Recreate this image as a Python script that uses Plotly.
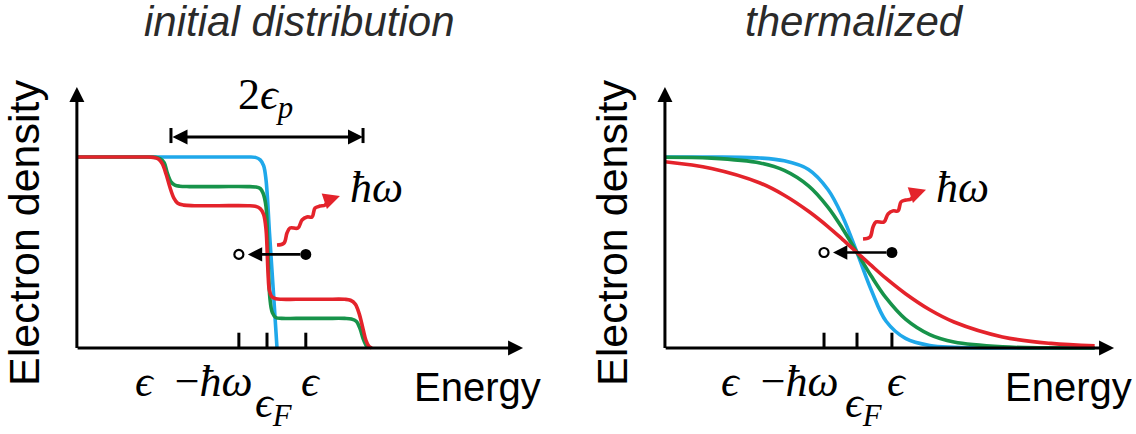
import plotly.graph_objects as go

# Energy is measured from the Fermi level in units of eps_p; density is the
# occupation fraction (1 = fully occupied).

# ---- initial (non-thermal) distribution: step profiles
init_blue_x = [-1.96, -0.5, -0.2, -0.12, -0.07, -0.035, -0.01, 0.026, 0.065, 0.093, 0.103]
init_blue_y = [1.0, 1.0, 1.0, 0.998, 0.985, 0.955, 0.88, 0.60, 0.30, 0.08, 0.0]

init_green_x = [-1.96, -1.5, -1.25, -1.15, -1.10, -1.06, -1.03, -0.99, -0.95, -0.90,
                -0.80, -0.5, -0.2, -0.12, -0.07, -0.04, -0.01, 0.01, 0.03, 0.055,
                0.09, 0.15, 0.3, 0.6, 0.80, 0.87, 0.92, 0.96, 0.99, 1.02, 1.04]
init_green_y = [1.0, 1.0, 1.0, 0.998, 0.99, 0.97, 0.92, 0.87, 0.853, 0.847,
                0.845, 0.845, 0.845, 0.843, 0.835, 0.81, 0.74, 0.50, 0.26, 0.185,
                0.16, 0.155, 0.155, 0.155, 0.155, 0.152, 0.14, 0.10, 0.05, 0.015, 0.0]

init_red_x = [-1.96, -1.5, -1.25, -1.17, -1.12, -1.08, -1.04, -1.0, -0.96, -0.92,
              -0.86, -0.75, -0.5, -0.2, -0.12, -0.07, -0.035, -0.01, 0.01, 0.025,
              0.05, 0.09, 0.15, 0.3, 0.6, 0.80, 0.86, 0.91, 0.95, 0.99, 1.02, 1.05, 1.08]
init_red_y = [1.0, 1.0, 1.0, 0.998, 0.99, 0.965, 0.91, 0.84, 0.785, 0.758,
              0.748, 0.745, 0.745, 0.745, 0.742, 0.73, 0.70, 0.62, 0.40, 0.30,
              0.268, 0.258, 0.255, 0.255, 0.255, 0.255, 0.25, 0.23, 0.18, 0.10, 0.04, 0.01, 0.0]

# ---- thermalized distribution: smooth Fermi-like profiles
therm_x = [-1.98, -1.5, -1.0, -0.75, -0.5, -0.3, -0.15, 0.0,
           0.15, 0.3, 0.5, 0.75, 1.0, 1.5, 2.0, 2.45]
therm_blue_y = [1.0, 1.0, 0.995, 0.98, 0.935, 0.83, 0.69, 0.5,
                0.30, 0.14, 0.05, 0.013, 0.004, 0.0, 0.0, 0.0]
therm_green_y = [0.999, 0.994, 0.969, 0.93, 0.849, 0.738, 0.626, 0.5,
                 0.374, 0.262, 0.151, 0.07, 0.031, 0.006, 0.001, 0.0]
therm_red_y = [0.975, 0.94, 0.864, 0.80, 0.716, 0.636, 0.569, 0.5,
               0.431, 0.364, 0.284, 0.20, 0.136, 0.058, 0.024, 0.011]

# energy marks on the axis: eps - hbar*omega, eps_F, eps
init_marks = [-0.29, 0.0, 0.40]
therm_marks = [-0.34, 0.0, 0.36]
mark_labels = ["<i>ϵ</i>\u2002−<i>ħω</i>", "<i>ϵ<sub>F</sub></i>", "<i>ϵ</i>"]
eps_p = 0.99

# electron level of the intraband transition
init_level = 0.49
therm_level = 0.50

# photon squiggle: offsets from its starting point
wave_dx = [0.0, 0.072, 0.103, 0.134, 0.216, 0.258, 0.309, 0.361, 0.392, 0.443, 0.495, 0.526]
wave_dy = [0.0, 0.010, 0.063, 0.089, 0.089, 0.131, 0.147, 0.147, 0.194, 0.204, 0.209, 0.236]
wave_tip = (0.649, 0.257)
photon_start_init = (0.103, 0.539)
photon_start_therm = (0.062, 0.571)

BLUE = "#1fa8ea"
GREEN = "#17934a"
RED = "#e4232b"
INK = "#000000"
MATH_FONT = "Liberation Serif"

fig = go.Figure()
annotations = []


def curve(xs, ys, color, xa, ya):
    fig.add_trace(go.Scatter(
        x=xs, y=ys, mode="lines", xaxis=xa, yaxis=ya,
        line=dict(color=color, width=3.6, shape="spline", smoothing=1.0),
        hoverinfo="skip", showlegend=False, cliponaxis=False))


def arrow(xa, ya, x, y, ax, ay, color=INK, width=3, head=2, size=1.0, side="end",
          standoff=0, startstandoff=0):
    annotations.append(dict(
        xref=xa, yref=ya, axref=xa, ayref=ya, x=x, y=y, ax=ax, ay=ay,
        text="", showarrow=True, arrowcolor=color, arrowwidth=width,
        arrowhead=head, startarrowhead=head, arrowsize=size, startarrowsize=size,
        arrowside=side, standoff=standoff, startstandoff=startstandoff))


def label(xa, ya, x, y, text, size, family="Liberation Sans", color=INK,
          angle=0, style="normal", xanchor="center"):
    annotations.append(dict(
        xref=xa, yref=ya, x=x, y=y, text=text, showarrow=False,
        textangle=angle, xanchor=xanchor, yanchor="middle",
        font=dict(family=family, size=size, color=color, style=style)))


def panel(xa, ya, curves, marks, level, photon_start, y_axis_x, x_tip, title, title_x):
    for xs, ys, color in curves:
        curve(xs, ys, color, xa, ya)

    # tick marks on the energy axis
    tx, ty = [], []
    for m in marks:
        tx += [m, m, None]
        ty += [0, 0.08, None]
    fig.add_trace(go.Scatter(x=tx, y=ty, mode="lines", xaxis=xa, yaxis=ya,
                             line=dict(color=INK, width=3), hoverinfo="skip",
                             showlegend=False, cliponaxis=False))

    # photon squiggle
    sx = [photon_start[0] + d for d in wave_dx]
    sy = [photon_start[1] + d for d in wave_dy]
    curve(sx, sy, RED, xa, ya)
    arrow(xa, ya, photon_start[0] + wave_tip[0], photon_start[1] + wave_tip[1],
          sx[-1], sy[-1], color=RED, width=3, size=1.1)

    # electron at eps drops to the hole at eps - hbar*omega
    arrow(xa, ya, marks[0], level, marks[2], level, width=2.6, size=1.1,
          standoff=9, startstandoff=4)
    fig.add_trace(go.Scatter(x=[marks[0]], y=[level], mode="markers", xaxis=xa, yaxis=ya,
                             marker=dict(symbol="circle-open", size=9, color=INK,
                                         line=dict(width=2.2, color=INK)),
                             hoverinfo="skip", showlegend=False, cliponaxis=False))
    fig.add_trace(go.Scatter(x=[marks[2]], y=[level], mode="markers", xaxis=xa, yaxis=ya,
                             marker=dict(symbol="circle", size=11, color=INK),
                             hoverinfo="skip", showlegend=False, cliponaxis=False))

    # axes with arrowheads
    arrow(xa, ya, x_tip, 0, y_axis_x - 0.008, 0, width=3, size=1.0)
    arrow(xa, ya, y_axis_x, 1.366, y_axis_x, -0.008, width=3, size=1.0)

    # texts
    label(xa, ya, title_x, 1.712, title, 42, color="#2a2a2a", style="italic")
    label(xa, ya, y_axis_x - 0.54, 0.60, "Electron density", 43, angle=-90)
    label(xa, ya, x_tip - 0.47, -0.205, "Energy", 40)
    label(xa, ya, marks[0] + 0.17, -0.178, mark_labels[0], 44,
          family=MATH_FONT, xanchor="right")
    label(xa, ya, marks[1] + 0.07, -0.30, mark_labels[1], 44, family=MATH_FONT)
    label(xa, ya, marks[2] + 0.05, -0.178, mark_labels[2], 44, family=MATH_FONT)
    label(xa, ya, photon_start[0] + wave_tip[0] + 0.38, 0.838, "<i>ħω</i>", 44,
          family=MATH_FONT)


panel("x", "y",
      [(init_blue_x, init_blue_y, BLUE), (init_green_x, init_green_y, GREEN),
       (init_red_x, init_red_y, RED)],
      init_marks, init_level, photon_start_init, -1.96, 2.64,
      "initial distribution", 0.34)

panel("x2", "y2",
      [(therm_x, therm_blue_y, BLUE), (therm_x, therm_green_y, GREEN),
       (therm_x, therm_red_y, RED)],
      therm_marks, therm_level, photon_start_therm, -1.98, 2.65,
      "thermalized", -0.03)

# width of the pump excitation window, 2 eps_p
arrow("x", "y", eps_p, 1.105, -eps_p, 1.105, width=3, size=1.0, side="end+start")
fig.add_trace(go.Scatter(x=[-eps_p, -eps_p, None, eps_p, eps_p],
                         y=[1.073, 1.152, None, 1.073, 1.152],
                         mode="lines", xaxis="x", yaxis="y",
                         line=dict(color=INK, width=3), hoverinfo="skip",
                         showlegend=False, cliponaxis=False))
label("x", "y", -0.02, 1.31, "2<i>ϵ<sub>p</sub></i>", 44, family=MATH_FONT)

axis_style = dict(visible=False, fixedrange=True, showgrid=False, zeroline=False)
fig.update_layout(
    width=1136, height=434,
    margin=dict(l=0, r=0, t=0, b=0),
    paper_bgcolor="white", plot_bgcolor="white",
    showlegend=False,
    xaxis=dict(domain=[0, 0.5], range=[-2.7526, 3.1031], **axis_style),
    yaxis=dict(domain=[0, 1], range=[-0.4503, 1.8220], anchor="x", **axis_style),
    xaxis2=dict(domain=[0.5, 1], range=[-2.9794, 2.8763], anchor="y2", **axis_style),
    yaxis2=dict(domain=[0, 1], range=[-0.4503, 1.8220], anchor="x2", **axis_style),
    annotations=annotations,
)

fig.write_html("out.html")
